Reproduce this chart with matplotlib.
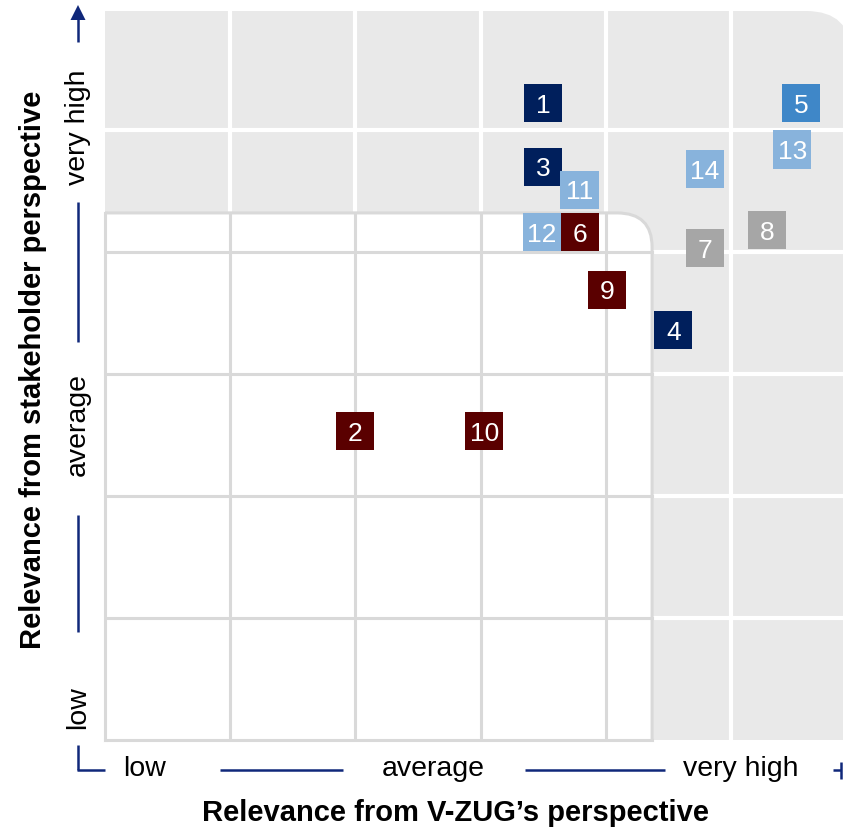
import matplotlib.pyplot as plt
from matplotlib.patches import FancyBboxPatch, Polygon
from matplotlib.lines import Line2D

plt.rcParams['font.family'] = ['Liberation Sans', 'DejaVu Sans']

# topic numbers and their position (V-ZUG relevance, stakeholder relevance)
topics = ['1', '2', '3', '4', '5', '6', '7', '8', '9', '10', '11', '12', '13', '14']
x_vzug = [3.50, 2.00, 3.50, 4.54, 5.56, 3.79, 4.79, 5.29, 4.01, 3.03, 3.79, 3.49, 5.49, 4.79]
y_stake = [5.22, 2.53, 4.70, 3.36, 5.22, 4.16, 4.03, 4.18, 3.69, 2.53, 4.51, 4.16, 4.84, 4.68]
groups = ['navy', 'maroon', 'navy', 'navy', 'blue', 'maroon', 'grey', 'grey', 'maroon',
          'maroon', 'light', 'light', 'light', 'light']
group_colors = {'navy': '#001F5C', 'maroon': '#5A0000', 'blue': '#3F87C8',
                'light': '#88B3DC', 'grey': '#A6A6A6'}

level_labels = ['low', 'average', 'very high']

W, H = 843, 831
fig = plt.figure(figsize=(W / 100, H / 100), dpi=100)
ax = fig.add_axes([105 / W, (H - 740) / H, (W - 105) / W, (740 - 11) / H])
ax.set_xlim(0, 5.895)
ax.set_ylim(0, 5.975)
ax.axis('off')

BG = '#E9E9E9'
BOX_LINE = '#D9D9D9'
NAVY = '#10287A'

# grey background with rounded top-right corner
ax.add_patch(FancyBboxPatch((-1, -1), 6.96, 6.975, boxstyle='round,pad=0,rounding_size=0.36',
                            facecolor=BG, edgecolor='none', zorder=0))
for v in range(1, 6):
    ax.axvline(v, color='white', lw=3, zorder=1)
    ax.axhline(v, color='white', lw=3, zorder=1)

# white inner box (low to average)
bx, by = 4.37, 4.32
ax.add_patch(FancyBboxPatch((-1, -1), bx + 1, by + 1, boxstyle='round,pad=0,rounding_size=0.28',
                            facecolor='white', edgecolor=BOX_LINE, lw=2.2, zorder=2))
ax.plot([0, 0], [0, by], color=BOX_LINE, lw=2.2, zorder=2, clip_on=False)
ax.plot([0, bx], [0, 0], color=BOX_LINE, lw=2.2, zorder=2, clip_on=False)
for v in range(1, 5):
    ax.plot([v, v], [0, by], color=BOX_LINE, lw=2.2, zorder=2)
    ax.plot([0, bx], [v, v], color=BOX_LINE, lw=2.2, zorder=2)

# topic markers
cols = [group_colors[g] for g in groups]
ax.scatter(x_vzug, y_stake, marker='s', s=27.4 ** 2, c=cols, linewidths=0, zorder=3)
for t, xv, yv in zip(topics, x_vzug, y_stake):
    ax.text(xv, yv, t, color='white', fontsize=19, ha='center', va='center_baseline', zorder=4)


def px(x, y):
    return x / W, 1 - y / H


def seg(p0, p1):
    (x0, y0), (x1, y1) = px(*p0), px(*p1)
    fig.add_artist(Line2D([x0, x1], [y0, y1], color=NAVY, lw=1.8, solid_capstyle='butt'))


# left scale
seg((78, 18), (78, 42))
fig.add_artist(Polygon([px(78, 5), px(70.5, 20), px(85.5, 20)], closed=True, color=NAVY, lw=0))
seg((78, 202), (78, 342))
seg((78, 515), (78, 632))
seg((78, 745), (78, 770))
seg((77, 770), (105, 770))
for lab, yy in zip(level_labels[::-1], [127, 425, 708]):
    fig.text(*px(78, yy), lab, rotation=90, ha='center', va='center', fontsize=20.5)

# bottom scale
seg((220, 770), (343, 770))
seg((525, 770), (665, 770))
seg((833, 770), (841, 770))
seg((841, 762), (841, 779))
for lab, xx in zip(level_labels, [145, 433, 741]):
    fig.text(*px(xx, 769), lab, ha='center', va='center', fontsize=20.5)

fig.text(*px(455, 813), 'Relevance from V-ZUG\u2019s perspective', ha='center', va='center',
         fontsize=21, fontweight='bold')
fig.text(*px(33, 370), 'Relevance from stakeholder perspective', ha='center', va='center',
         rotation=90, fontsize=21, fontweight='bold')

fig.savefig('out.png', dpi=100)
